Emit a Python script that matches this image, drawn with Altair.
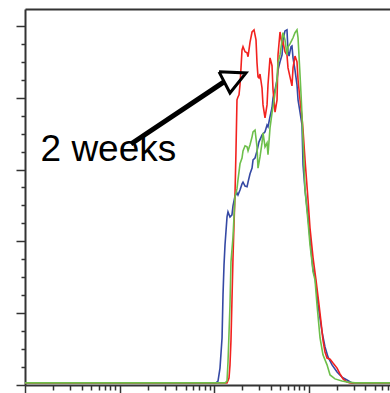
import altair as alt
import pandas as pd

# ---- data (fluorescence intensity, % of max) ----
red_x = [1, 137.3, 144.1, 147.6, 151.2, 154.9, 158.8, 162.7, 166.7, 170.9, 175.0, 179.3, 183.9, 188.4,
         193.0, 197.8, 202.7, 212.9, 223.6, 229.1, 240.5, 252.6, 265.1, 278.2, 285.1, 292.1, 299.2,
         306.6, 322.0, 330.0, 346.5, 363.9, 372.6, 391.4, 411.0, 421.0, 442.3, 464.5, 475.5, 499.3,
         524.8, 537.0, 563.6, 591.6, 606.7, 636.8, 668.3, 685.5, 719.5, 755.1, 774.5, 812.8, 853.1,
         875.0, 918.3, 988.5, 1037, 1117, 1200, 1292, 1356, 1422, 1494, 1570, 1690, 1816, 2004,
         2153, 2318, 2553, 2749, 7280]
red_y = [0.6, 0.6, 1.9, 5.6, 12.5, 23.7, 35.4, 44.6, 52.9, 65.5, 79.4, 80.2, 80.8, 83.6,
         88.3, 93.3, 94.2, 92.8, 92.5, 91.4, 95.5, 98.3, 98.9, 96.1, 89.7, 85.8, 85.5,
         86.6, 82.7, 78.0, 74.4, 78.0, 83.6, 91.1, 88.9, 82.2, 76.0, 79.4, 91.9, 98.3,
         94.7, 95.5, 92.8, 91.9, 88.3, 85.8, 83.3, 88.3, 91.6, 90.0, 85.0, 79.4, 74.4,
         71.0, 62.7, 51.5, 43.7, 35.4, 29.2, 22.3, 17.5, 12.5, 9.2, 7.5, 7.2, 6.1, 4.7,
         3.1, 1.7, 0.8, 0.6, 0.6]

blue_x = [1, 105.0, 110.2, 115.7, 121.6, 124.5, 127.6, 130.7, 137.3, 140.6, 147.6, 154.9, 158.8,
          166.7, 175.0, 179.3, 188.4, 197.8, 202.7, 212.9, 223.6, 229.1, 240.5, 252.6, 258.8,
          271.6, 285.1, 299.2, 322.0, 346.5, 363.9, 372.6, 391.4, 411.0, 421.0, 442.3, 464.5,
          475.5, 499.3, 524.8, 537.0, 563.6, 591.6, 606.7, 622.3, 653.1, 668.3, 685.5, 719.5,
          755.1, 774.5, 812.8, 853.1, 875.0, 918.3, 988.5, 1037, 1089, 1117, 1172, 1262, 1390,
          1494, 1607, 1774, 2004, 2260, 2553, 2885, 7280]
blue_y = [0.6, 0.6, 1.1, 4.7, 13.1, 25.1, 33.4, 39.0, 46.8, 48.2, 46.8, 47.4, 49.9,
          52.6, 53.5, 52.9, 54.3, 56.0, 56.5, 55.4, 55.2, 56.5, 58.8, 60.4, 62.7,
          63.2, 65.2, 67.7, 69.6, 70.5, 72.4, 71.9, 74.7, 77.2, 79.9, 82.2, 85.0,
          87.7, 90.0, 91.9, 96.1, 98.6, 98.9, 92.8, 91.6, 94.2, 94.4, 91.1, 87.7,
          83.6, 79.4, 76.0, 72.4, 61.3, 54.3, 46.8, 40.9, 34.8, 32.0, 30.1, 22.3, 14.8,
          10.6, 7.8, 5.6, 3.6, 2.2, 1.4, 0.6, 0.6]

green_x = [1, 130.7, 137.3, 140.6, 147.6, 151.2, 158.8, 166.7, 175.0, 179.3, 188.4, 197.8, 202.7,
           212.9, 223.6, 229.1, 240.5, 252.6, 258.8, 271.6, 285.1, 292.1, 306.6, 322.0, 330.0,
           346.5, 363.9, 372.6, 391.4, 411.0, 421.0, 442.3, 464.5, 475.5, 499.3, 524.8, 537.0,
           563.6, 591.6, 606.7, 636.8, 668.3, 685.5, 719.5, 755.1, 774.5, 812.8, 833.7, 853.1,
           875.0, 918.3, 988.5, 1037, 1089, 1117, 1172, 1230, 1324, 1422, 1570, 1690, 1906,
           2260, 2618, 3105, 7280]
green_y = [0.6, 0.6, 1.1, 6.4, 22.3, 34.3, 41.2, 52.4, 54.6, 57.1, 61.6, 63.2, 65.2,
           66.6, 66.3, 65.2, 66.9, 69.1, 70.5, 71.0, 66.3, 60.4, 63.5, 67.4, 70.2,
           66.3, 67.4, 64.1, 71.6, 75.8, 77.4, 81.3, 85.0, 89.7, 91.9, 96.1, 98.1,
           96.1, 91.9, 94.2, 95.0, 96.1, 96.7, 98.1, 98.9, 96.7, 86.4, 80.8, 75.2,
           68.2, 54.3, 45.4, 39.0, 34.3, 31.5, 29.2, 22.3, 13.1, 8.4, 5.6, 2.8, 1.7,
           1.1, 0.8, 0.6, 0.6]

series_names = ["blue", "red", "green"]
series_colors = ["#3549a4", "#f2221f", "#6dbf4b"]

# annotation
label_text = "2 weeks"
label_x = [1.46]
label_y = [62.4]
shaft_x = [13.2, 127.6]
shaft_y = [67.1, 84.4]
head_x = [113.0, 218.1, 147.6, 113.0]
head_y = [87.2, 86.9, 81.3, 87.2]

x_ticks = [m * 10 ** e for e in range(4) for m in range(1, 10) if m * 10 ** e <= 7280]
y_ticks = list(range(0, 101, 5))

# ---- build tables ----
rows = []
for name, xs, ys in [("blue", blue_x, blue_y), ("red", red_x, red_y), ("green", green_x, green_y)]:
    for i, (a, b) in enumerate(zip(xs, ys)):
        rows.append({"series": name, "x": a, "y": b, "i": i})
df = pd.DataFrame(rows)

xscale = alt.Scale(type="log", domain=[1, 7280], nice=False)
yscale = alt.Scale(domain=[0, 104.7], nice=False, zero=False)

axis_color = "#333333"
x_axis = alt.Axis(
    values=x_ticks, labels=False, title=None, grid=False,
    domainColor=axis_color, domainWidth=2, tickColor=axis_color, tickWidth=1.5,
    tickSize={"condition": {"test": "abs(log(datum.value)/LN10 - round(log(datum.value)/LN10)) < 0.001", "value": 9}, "value": 5},
)
y_axis = alt.Axis(
    values=y_ticks, labels=False, title=None, grid=False,
    domainColor=axis_color, domainWidth=2, tickColor=axis_color, tickWidth=1.5,
    tickSize={"condition": {"test": "datum.value % 20 === 0", "value": 9}, "value": 4},
)
top_axis = alt.Axis(orient="top", labels=False, ticks=False, title=None, grid=False,
                    domainColor=axis_color, domainWidth=2)

lines = alt.Chart(df).mark_line(strokeWidth=1.6, clip=True).encode(
    x=alt.X("x:Q", scale=xscale, axis=x_axis),
    y=alt.Y("y:Q", scale=yscale, axis=y_axis),
    color=alt.Color("series:N", scale=alt.Scale(domain=series_names, range=series_colors), legend=None),
    order=alt.Order("i:Q"),
    detail="series:N",
)

top = alt.Chart(pd.DataFrame({"x": [1, 7280], "y": [0, 0]})).mark_point(opacity=0).encode(
    x=alt.X("x:Q", scale=xscale, axis=top_axis),
    y=alt.Y("y:Q", scale=yscale, axis=None),
)

shaft = alt.Chart(pd.DataFrame({"x": shaft_x, "y": shaft_y})).mark_line(
    color="black", strokeWidth=5, strokeCap="butt").encode(
    x=alt.X("x:Q", scale=xscale, axis=None),
    y=alt.Y("y:Q", scale=yscale, axis=None),
)

head = alt.Chart(pd.DataFrame({"x": head_x, "y": head_y, "o": [0, 1, 2, 3]})).mark_line(
    color="black", strokeWidth=3, strokeJoin="miter").encode(
    x=alt.X("x:Q", scale=xscale, axis=None),
    y=alt.Y("y:Q", scale=yscale, axis=None),
    order=alt.Order("o:Q"),
)

text = alt.Chart(pd.DataFrame({"x": label_x, "y": label_y, "t": [label_text]})).mark_text(
    align="left", baseline="alphabetic", font="Liberation Sans", fontSize=37, color="black").encode(
    x=alt.X("x:Q", scale=xscale, axis=None),
    y=alt.Y("y:Q", scale=yscale, axis=None),
    text="t:N",
)

chart = alt.layer(lines, top, shaft, head, text).resolve_axis(x="independent", y="independent").properties(
    width=365, height=376,
    autosize=alt.AutoSizeParams(type="none"),
    padding={"left": 25, "top": 9, "right": 0, "bottom": 8},
).configure_view(stroke=None)

chart.save("out.html", embed_options={"renderer": "svg", "actions": False})
